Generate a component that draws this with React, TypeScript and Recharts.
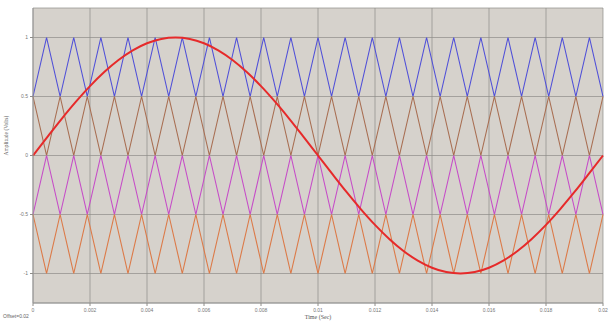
import { CartesianGrid, Line, LineChart, XAxis, YAxis } from "recharts";

// carrier vertex times (21 carrier periods over one 50 Hz cycle)
const carrierTimes = [
  0, 0.000476, 0.000952, 0.001429, 0.001905, 0.002381, 0.002857, 0.003333,
  0.00381, 0.004286, 0.004762, 0.005238, 0.005714, 0.00619, 0.006667,
  0.007143, 0.007619, 0.008095, 0.008571, 0.009048, 0.009524, 0.01, 0.010476,
  0.010952, 0.011429, 0.011905, 0.012381, 0.012857, 0.013333, 0.01381,
  0.014286, 0.014762, 0.015238, 0.015714, 0.01619, 0.016667, 0.017143,
  0.017619, 0.018095, 0.018571, 0.019048, 0.019524, 0.02,
];

const carrier1 = [
  0.5, 1, 0.5, 1, 0.5, 1, 0.5, 1, 0.5, 1, 0.5, 1, 0.5, 1, 0.5, 1, 0.5, 1, 0.5,
  1, 0.5, 1, 0.5, 1, 0.5, 1, 0.5, 1, 0.5, 1, 0.5, 1, 0.5, 1, 0.5, 1, 0.5, 1,
  0.5, 1, 0.5, 1, 0.5,
];
const carrier2 = [
  0.5, 0, 0.5, 0, 0.5, 0, 0.5, 0, 0.5, 0, 0.5, 0, 0.5, 0, 0.5, 0, 0.5, 0, 0.5,
  0, 0.5, 0, 0.5, 0, 0.5, 0, 0.5, 0, 0.5, 0, 0.5, 0, 0.5, 0, 0.5, 0, 0.5, 0,
  0.5, 0, 0.5, 0, 0.5,
];
const carrier3 = [
  -0.5, 0, -0.5, 0, -0.5, 0, -0.5, 0, -0.5, 0, -0.5, 0, -0.5, 0, -0.5, 0,
  -0.5, 0, -0.5, 0, -0.5, 0, -0.5, 0, -0.5, 0, -0.5, 0, -0.5, 0, -0.5, 0,
  -0.5, 0, -0.5, 0, -0.5, 0, -0.5, 0, -0.5, 0, -0.5,
];
const carrier4 = [
  -0.5, -1, -0.5, -1, -0.5, -1, -0.5, -1, -0.5, -1, -0.5, -1, -0.5, -1, -0.5,
  -1, -0.5, -1, -0.5, -1, -0.5, -1, -0.5, -1, -0.5, -1, -0.5, -1, -0.5, -1,
  -0.5, -1, -0.5, -1, -0.5, -1, -0.5, -1, -0.5, -1, -0.5, -1, -0.5,
];

// reference sine, sampled every 0.5 ms
const refTimes = [
  0, 0.0005, 0.001, 0.0015, 0.002, 0.0025, 0.003, 0.0035, 0.004, 0.0045,
  0.005, 0.0055, 0.006, 0.0065, 0.007, 0.0075, 0.008, 0.0085, 0.009, 0.0095,
  0.01, 0.0105, 0.011, 0.0115, 0.012, 0.0125, 0.013, 0.0135, 0.014, 0.0145,
  0.015, 0.0155, 0.016, 0.0165, 0.017, 0.0175, 0.018, 0.0185, 0.019, 0.0195,
  0.02,
];
const refValues = [
  0, 0.156, 0.309, 0.454, 0.588, 0.707, 0.809, 0.891, 0.951, 0.988, 1, 0.988,
  0.951, 0.891, 0.809, 0.707, 0.588, 0.454, 0.309, 0.156, 0, -0.156, -0.309,
  -0.454, -0.588, -0.707, -0.809, -0.891, -0.951, -0.988, -1, -0.988, -0.951,
  -0.891, -0.809, -0.707, -0.588, -0.454, -0.309, -0.156, 0,
];

const xTicks = [0, 0.002, 0.004, 0.006, 0.008, 0.01, 0.012, 0.014, 0.016, 0.018, 0.02];
const yTicks = [-1, -0.5, 0, 0.5, 1];

const toPoints = (xs: number[], ys: number[]) => xs.map((t, i) => ({ t, v: ys[i] }));

const carriers = [
  { name: "c1", values: carrier1, color: "#5050d8" },
  { name: "c2", values: carrier2, color: "#a86e52" },
  { name: "c3", values: carrier3, color: "#c64cc8" },
  { name: "c4", values: carrier4, color: "#dc7a48" },
];

const tickStyle = { fontSize: 5, fill: "#777", fontFamily: "Arial, Liberation Sans" };

export default function App() {
  return (
    <div style={{ position: "absolute", left: 0, top: 0, width: 613, height: 322, background: "#fff" }}>
      <LineChart width={613} height={322} margin={{ top: 8, right: 10, bottom: 0, left: 0 }}>
        <CartesianGrid fill="#d6d2cc" stroke="#8e8c88" strokeWidth={0.7} />
        <XAxis
          dataKey="t"
          type="number"
          domain={[0, 0.02]}
          ticks={xTicks}
          allowDuplicatedCategory={false}
          height={19}
          tick={tickStyle}
          tickSize={3}
          tickLine={{ stroke: "#8e8c88" }}
          axisLine={{ stroke: "#999" }}
          label={{ value: "Time (Sec)", position: "insideBottom", offset: 0, dy: -3, fontSize: 6, fill: "#555" }}
        />
        <XAxis xAxisId="top" orientation="top" type="number" domain={[0, 0.02]} height={0} tick={false} tickLine={false} axisLine={{ stroke: "#999" }} />
        <YAxis
          type="number"
          domain={[-1.25, 1.25]}
          ticks={yTicks}
          width={33}
          tick={tickStyle}
          tickSize={3}
          tickLine={{ stroke: "#8e8c88" }}
          axisLine={{ stroke: "#999" }}
          label={{ value: "Amplitude (Volts)", angle: -90, position: "insideLeft", offset: 6, fontSize: 5.5, fill: "#555" }}
        />
        <YAxis yAxisId="right" orientation="right" width={0} tick={false} tickLine={false} axisLine={{ stroke: "#999" }} />
        {carriers.map((c) => (
          <Line
            key={c.name}
            data={toPoints(carrierTimes, c.values)}
            dataKey="v"
            type="linear"
            stroke={c.color}
            strokeWidth={1.1}
            dot={false}
            isAnimationActive={false}
          />
        ))}
        <Line
          data={toPoints(refTimes, refValues)}
          dataKey="v"
          type="monotone"
          stroke="#e62a2a"
          strokeWidth={2}
          dot={false}
          isAnimationActive={false}
        />
      </LineChart>
      <div style={{ position: "absolute", left: 3, top: 313, fontSize: 5, color: "#666", fontFamily: "Arial, Liberation Sans" }}>
        Offset=0.02
      </div>
    </div>
  );
}
